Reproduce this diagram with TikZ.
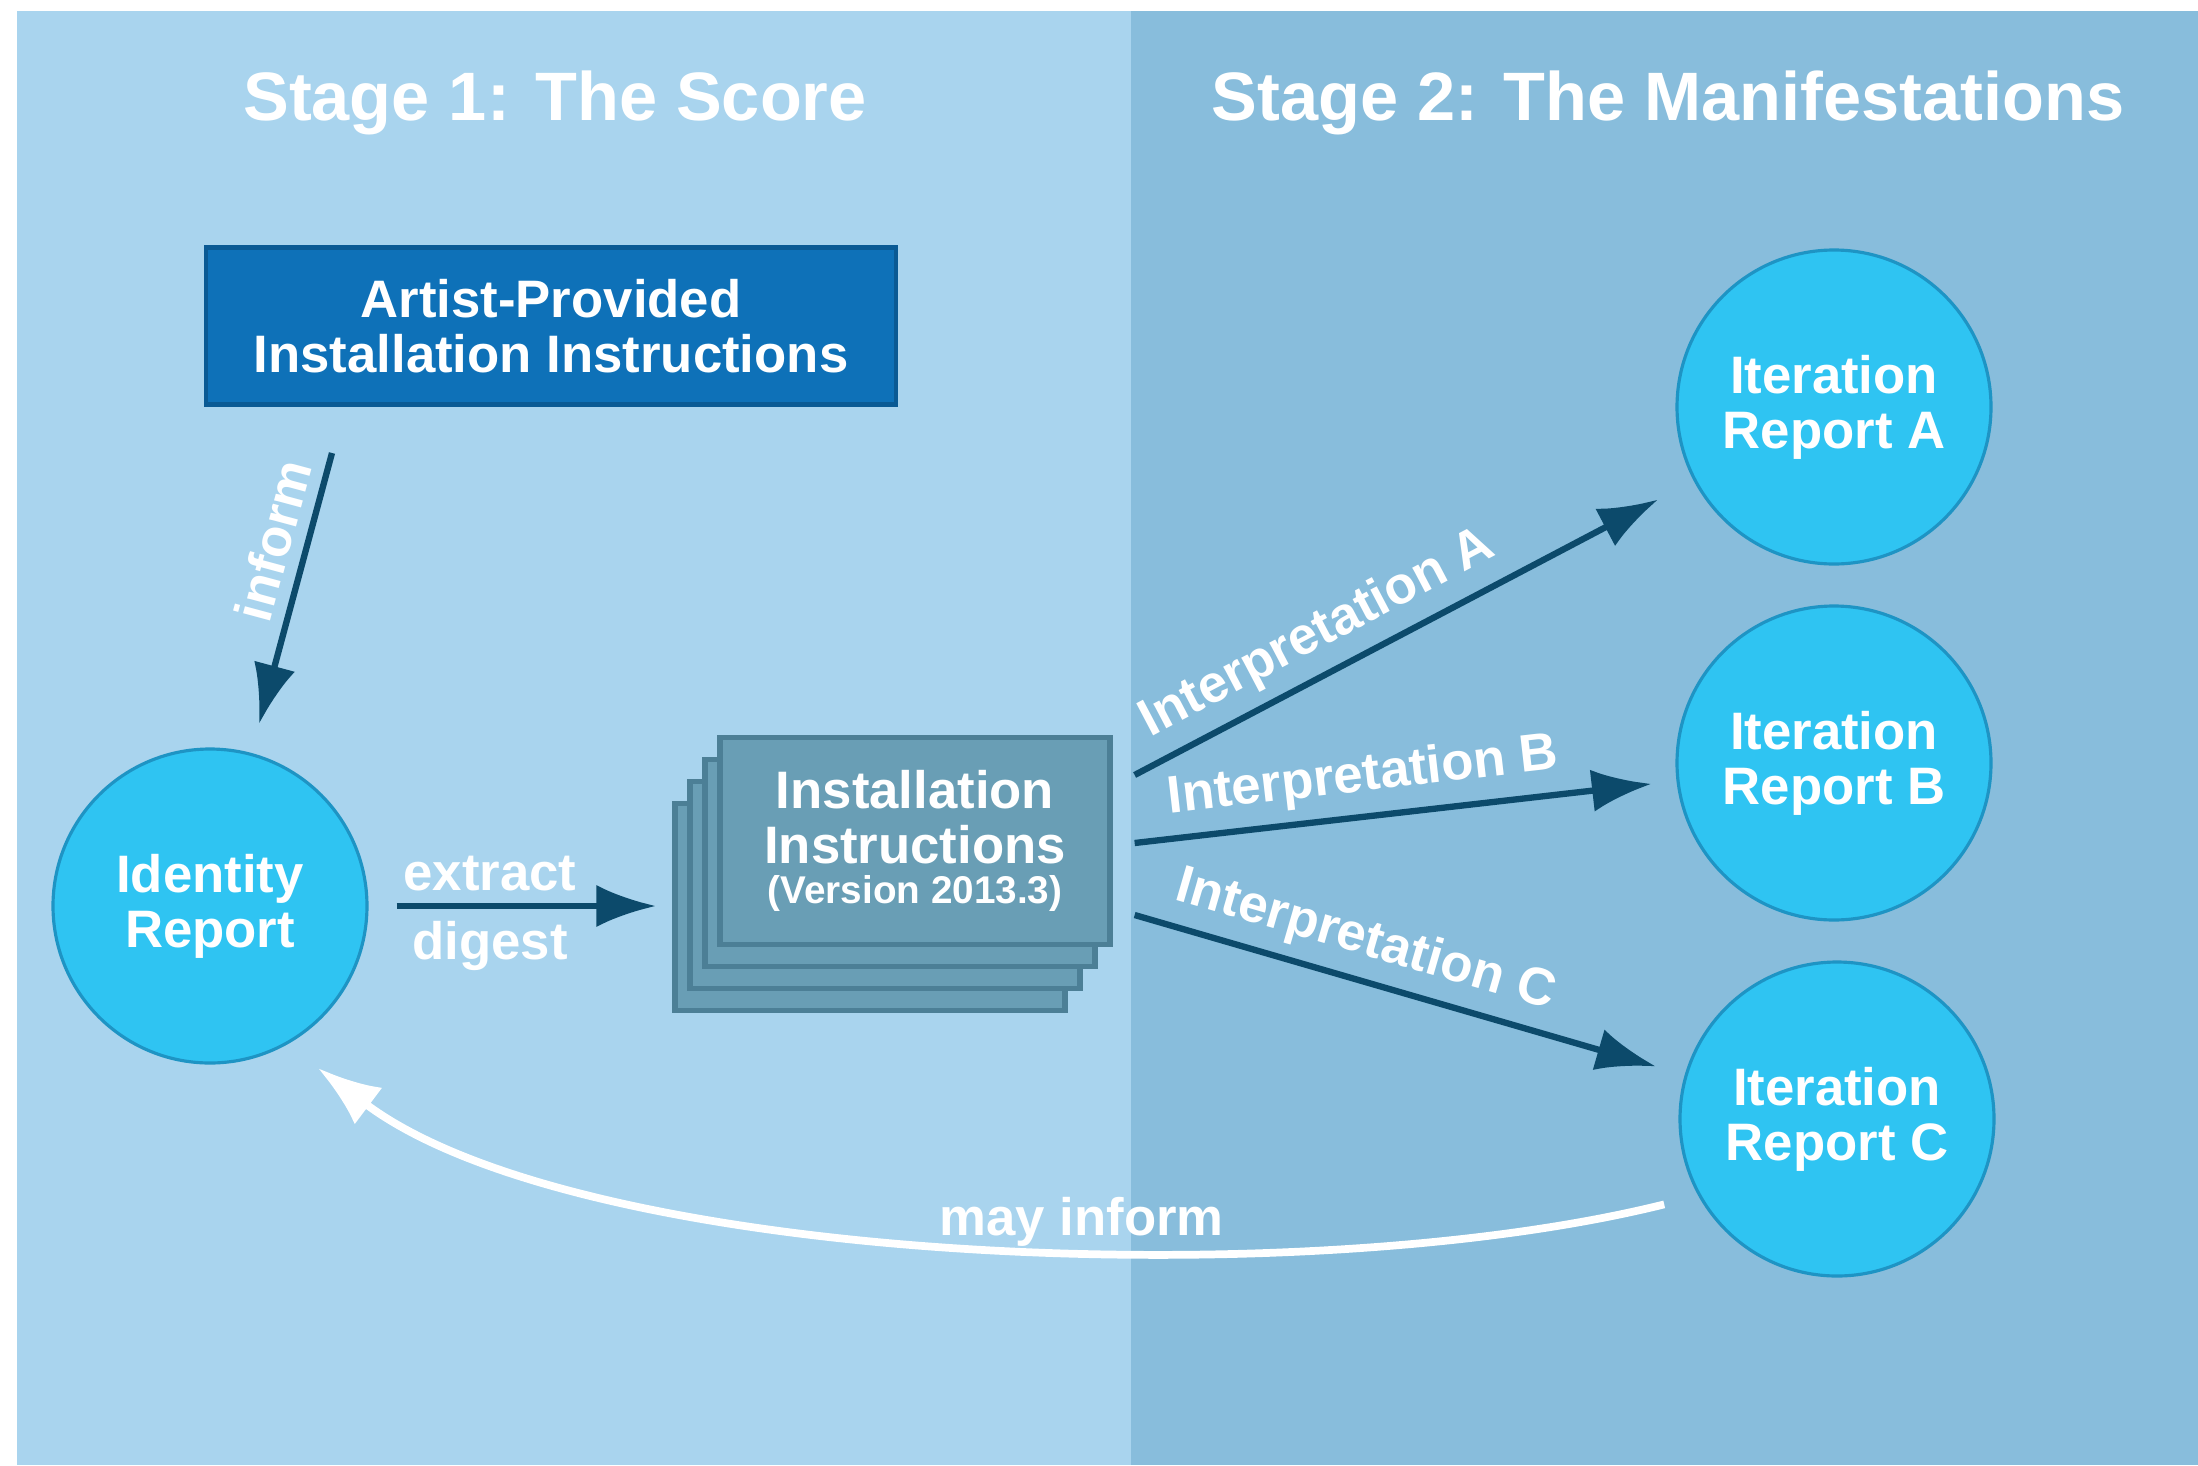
\documentclass[tikz,border=0pt]{standalone}
\usepackage{fontspec}
\setmainfont{Liberation Sans}
\usetikzlibrary{arrows.meta}

\definecolor{scorebg}{HTML}{A9D4EE}
\definecolor{manibg}{HTML}{88BDDC}
\definecolor{artistfill}{HTML}{0E71B8}
\definecolor{artistline}{HTML}{0A5A94}
\definecolor{reportfill}{HTML}{2FC4F2}
\definecolor{reportline}{HTML}{1E94C4}
\definecolor{sheetfill}{HTML}{699EB5}
\definecolor{sheetline}{HTML}{4C7F96}
\definecolor{flowcol}{HTML}{0C4A6B}

\begin{document}
\begin{tikzpicture}[x=0.1mm,y=-0.1mm,
  txt/.style={text=white,font=\fontsize{15}{15.6}\selectfont\bfseries,align=center},
  stagetitle/.style={text=white,font=\fontsize{19.5}{22}\selectfont\bfseries},
  report/.style={txt,circle,draw=reportline,line width=0.9pt,fill=reportfill,minimum size=31.4mm,inner sep=0pt},
  sheet/.style={rectangle,draw=sheetline,line width=1.5pt,fill=sheetfill,minimum width=39mm,minimum height=20.7mm},
  flow/.style={flowcol,line width=1.8pt,-{Latex[length=17pt,width=12pt]}},
  lbl/.style={txt,sloped,above}]

\useasboundingbox (0,0) rectangle (2198,1465);
\fill[scorebg] (17,11) rectangle (1131,1465);
\fill[manibg] (1131,11) rectangle (2198,1465);

\node (stage1) at (555,103) [stagetitle] {Stage 1: The Score};
\node (stage2) at (1668,103) [stagetitle] {Stage 2: The Manifestations};

\node (artist) at (551,326) [txt,draw=artistline,line width=1.2pt,fill=artistfill,minimum width=69mm,minimum height=15.7mm] {Artist-Provided\\Installation Instructions};

\node (ident) at (210,906) [report] {Identity\\Report};
\node (iterA) at (1834,407) [report] {Iteration\\Report A};
\node (iterB) at (1834,763) [report] {Iteration\\Report B};
\node (iterC) at (1837,1119) [report] {Iteration\\Report C};

% stacked sheets, back to front
\foreach \i in {3,2,1}
  \node (sheet\i) at ({915-15*\i},{841+22*\i}) [sheet] {};
\node (version) at (915,841) [sheet,txt] {Installation\\Instructions\\[-4pt]{\fontsize{11}{12}\selectfont(Version 2013.3)}};

\coordinate (informtop) at (332,453);
\draw[flow,shorten >=8.5pt] (informtop) -- node[lbl,pos=0.32] {inform} (ident);

\draw[flow,shorten <=8pt,shorten >=4.6pt] (ident.east) -- (ident.east -| sheet3.west)
  node[txt,pos=0.4,above] {extract} node[txt,pos=0.4,below] {digest};

\coordinate (outA) at ([shift={(22,-66)}]version.east);
\coordinate (outB) at ([shift={(22,2)}]version.east);
\coordinate (outC) at ([shift={(22,74)}]version.east);

\draw[flow,shorten >=11.4pt] (outA) -- node[lbl,pos=0.36] {Interpretation A} (iterA);
\draw[flow,shorten >=7.1pt] (outB) -- node[lbl,pos=0.43] {Interpretation B} (iterB);
\draw[flow,shorten >=8.5pt] (outC) -- node[lbl,pos=0.4] {Interpretation C} (iterC);

\draw[white,line width=2.2pt,-{Latex[length=18pt,width=13pt]},shorten <=10pt,shorten >=11pt]
  (iterC.209) .. controls (1300,1295) and (580,1265) .. node[txt,pos=0.42,above=-4pt] {may inform} (ident.299);

\end{tikzpicture}
\end{document}
